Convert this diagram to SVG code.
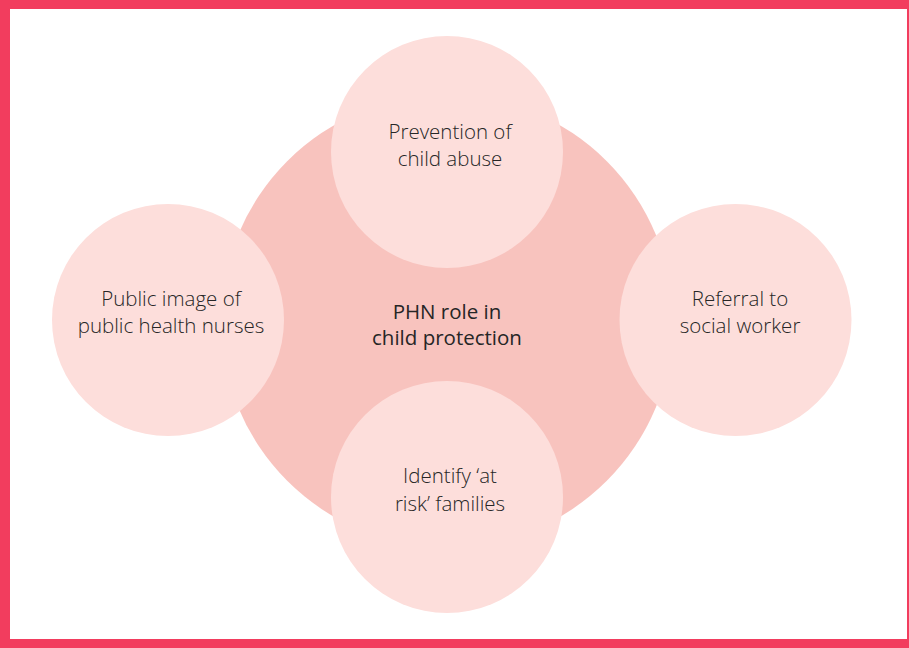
<svg xmlns="http://www.w3.org/2000/svg" width="909" height="648" viewBox="0 0 909 648">
<style>
.sm{fill:#FDDEDB}
.big{fill:#F8C3BE}
text{font-family:"Open Sans",Lato,"Liberation Sans",sans-serif;font-size:20.5px;font-weight:300;fill:#262626;text-anchor:middle}
.ctr{font-weight:500}
</style>
<rect x="0" y="0" width="909" height="648" fill="#F23D5E"/>
<rect x="10" y="9" width="897" height="630" fill="#FFFFFF"/>
<g id="center">
<circle class="big" cx="447" cy="321" r="226"/>
</g>
<g id="connectors"></g>
<g id="top">
<circle class="sm" cx="447" cy="152" r="116"/>
<text x="450" y="139">Prevention of</text>
<text x="450" y="166">child abuse</text>
</g>
<g id="left">
<circle class="sm" cx="168" cy="320" r="116"/>
<text x="171" y="306">Public image of</text>
<text x="171" y="333">public health nurses</text>
</g>
<g id="right">
<circle class="sm" cx="735.5" cy="320" r="116"/>
<text x="740" y="306">Referral to</text>
<text x="740" y="333">social worker</text>
</g>
<g id="bottom">
<circle class="sm" cx="447" cy="497" r="116"/>
<text x="450" y="483">Identify ‘at</text>
<text x="450" y="511">risk’ families</text>
</g>
<g id="label">
<text class="ctr" x="447" y="319">PHN role in</text>
<text class="ctr" x="447" y="345">child protection</text>
</g>
</svg>
